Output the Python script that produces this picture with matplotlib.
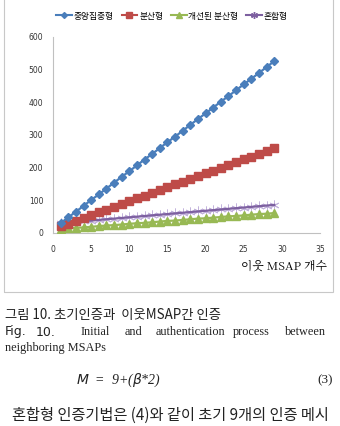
import matplotlib.pyplot as plt
from matplotlib.lines import Line2D
from matplotlib.patches import Rectangle

KR = ['Noto Sans CJK KR', 'DejaVu Sans']
SERIF = ['Liberation Serif', 'DejaVu Serif']

# neighbour MSAP count
n_msap = list(range(1, 30))

central = [30, 48, 65, 83, 101, 118, 136, 154, 172, 189, 207, 225, 242, 260, 278,
           295, 313, 331, 349, 366, 384, 402, 419, 437, 455, 472, 490, 508, 526]
distributed = [20, 29, 37, 46, 54, 63, 71, 80, 89, 97, 106, 114, 123, 131, 140,
               149, 157, 166, 174, 183, 191, 200, 209, 217, 226, 234, 243, 251, 260]
improved = [12, 14, 16, 17, 19, 21, 23, 24, 26, 28, 30, 31, 33, 35, 37,
            38, 40, 42, 44, 45, 47, 49, 51, 52, 54, 56, 58, 59, 61]
hybrid = [30, 32, 34, 36, 38, 40, 42, 44, 46, 48, 50, 52, 54, 56, 58,
          60, 62, 64, 66, 68, 70, 72, 74, 76, 78, 80, 82, 84, 86]

series_names = ["중앙집중형", "분산형", "개선된 분산형", "혼합형"]
x_ticks = [0, 5, 10, 15, 20, 25, 30, 35]
y_ticks = [0, 100, 200, 300, 400, 500, 600]

W, H = 340, 426
fig = plt.figure(figsize=(W / 100, H / 100), dpi=100)

def fx(px):
    return px / W

def fy(py):
    return 1 - py / H

# chart frame
fig.patches.append(Rectangle((fx(4), fy(292)), fx(333) - fx(4), fy(0) - fy(292) + 0.01,
                             transform=fig.transFigure, fill=False,
                             edgecolor='#c8c8c8', linewidth=0.8))

ax = fig.add_axes([fx(53), fy(233), fx(320) - fx(53), fy(37) - fy(233)])

blue, red, green, purple = '#4a7ebb', '#be4b48', '#98b954', '#7d60a0'

ax.plot(n_msap, central, color=blue, marker='D', markersize=4.2, linewidth=1.6, zorder=5)
ax.plot(n_msap, distributed, color=red, marker='s', markersize=5.2, linewidth=1.6, zorder=4)
ax.plot(n_msap, improved, color=green, marker='^', markersize=5.2, linewidth=1.6, zorder=3)
ax.plot(n_msap, hybrid, linestyle='none', marker=(6, 2, 0), markersize=7,
        markeredgecolor='#c3b3dc', markeredgewidth=0.7, zorder=2)
ax.plot(n_msap, hybrid, color=purple, linewidth=1.6, zorder=3)

ax.set_xlim(0, 35)
ax.set_ylim(0, 600)
ax.set_xticks(x_ticks)
ax.set_yticks(y_ticks)
ax.tick_params(length=0, labelsize=5.5, colors='#333333')
ax.tick_params(axis='y', pad=7)
ax.tick_params(axis='x', pad=9)
for s in ['top', 'right']:
    ax.spines[s].set_visible(False)
for s in ['left', 'bottom']:
    ax.spines[s].set_color('#c0c0c0')
    ax.spines[s].set_linewidth(0.8)

# legend
handles = [
    Line2D([], [], color=blue, marker='D', markersize=3),
    Line2D([], [], color=red, marker='s', markersize=4),
    Line2D([], [], color=green, marker='^', markersize=4),
    Line2D([], [], color=purple, marker=(6, 2, 0), markersize=5),
]
fig.legend(handles, series_names, loc='center', bbox_to_anchor=(fx(172), fy(16)),
           ncol=4, frameon=False, prop={'family': KR, 'size': 6.3},
           handlelength=1.8, handletextpad=0.2, columnspacing=0.9)

fig.text(fx(327), fy(267), "이웃 MSAP 개수", ha='right', va='center',
         family=['Noto Serif CJK KR', 'Noto Sans CJK KR', 'DejaVu Sans'], fontsize=8.5)

# caption
fig.text(fx(5), fy(315), "그림 10. 초기인증과  이웃MSAP간 인증", ha='left', va='center',
         family=KR, fontsize=9.6, color='#222222')
words = [("Fig.", 5, 'sans'), ("10.", 36, 'sans'), ("Initial", 81, 'serif'),
         ("and", 125, 'serif'), ("authentication", 156, 'serif'),
         ("process", 233, 'serif'), ("between", 285, 'serif')]
for w, px, kind in words:
    fam = ['DejaVu Sans'] if kind == 'sans' else SERIF
    fig.text(fx(px), fy(332), w, ha='left', va='center', family=fam,
             fontsize=9 if kind == 'sans' else 8.8, color='#222222')
fig.text(fx(5), fy(348), "neighboring MSAPs", ha='left', va='center', family=SERIF,
         fontsize=8.8, color='#222222')

# equation
fig.text(fx(76), fy(380), r"$M$  =  9+($\beta$*2)", ha='left', va='center',
         family=SERIF, fontsize=10, style='italic', color='#222222')
fig.text(fx(333), fy(380), "(3)", ha='right', va='center', family=SERIF,
         fontsize=9.5, color='#222222')

fig.text(fx(12), fy(415), "혼합형 인증기법은 (4)와 같이 초기 9개의 인증 메시", ha='left',
         va='center', family=KR, fontsize=11, color='#222222')

fig.savefig("out.png", dpi=100)
